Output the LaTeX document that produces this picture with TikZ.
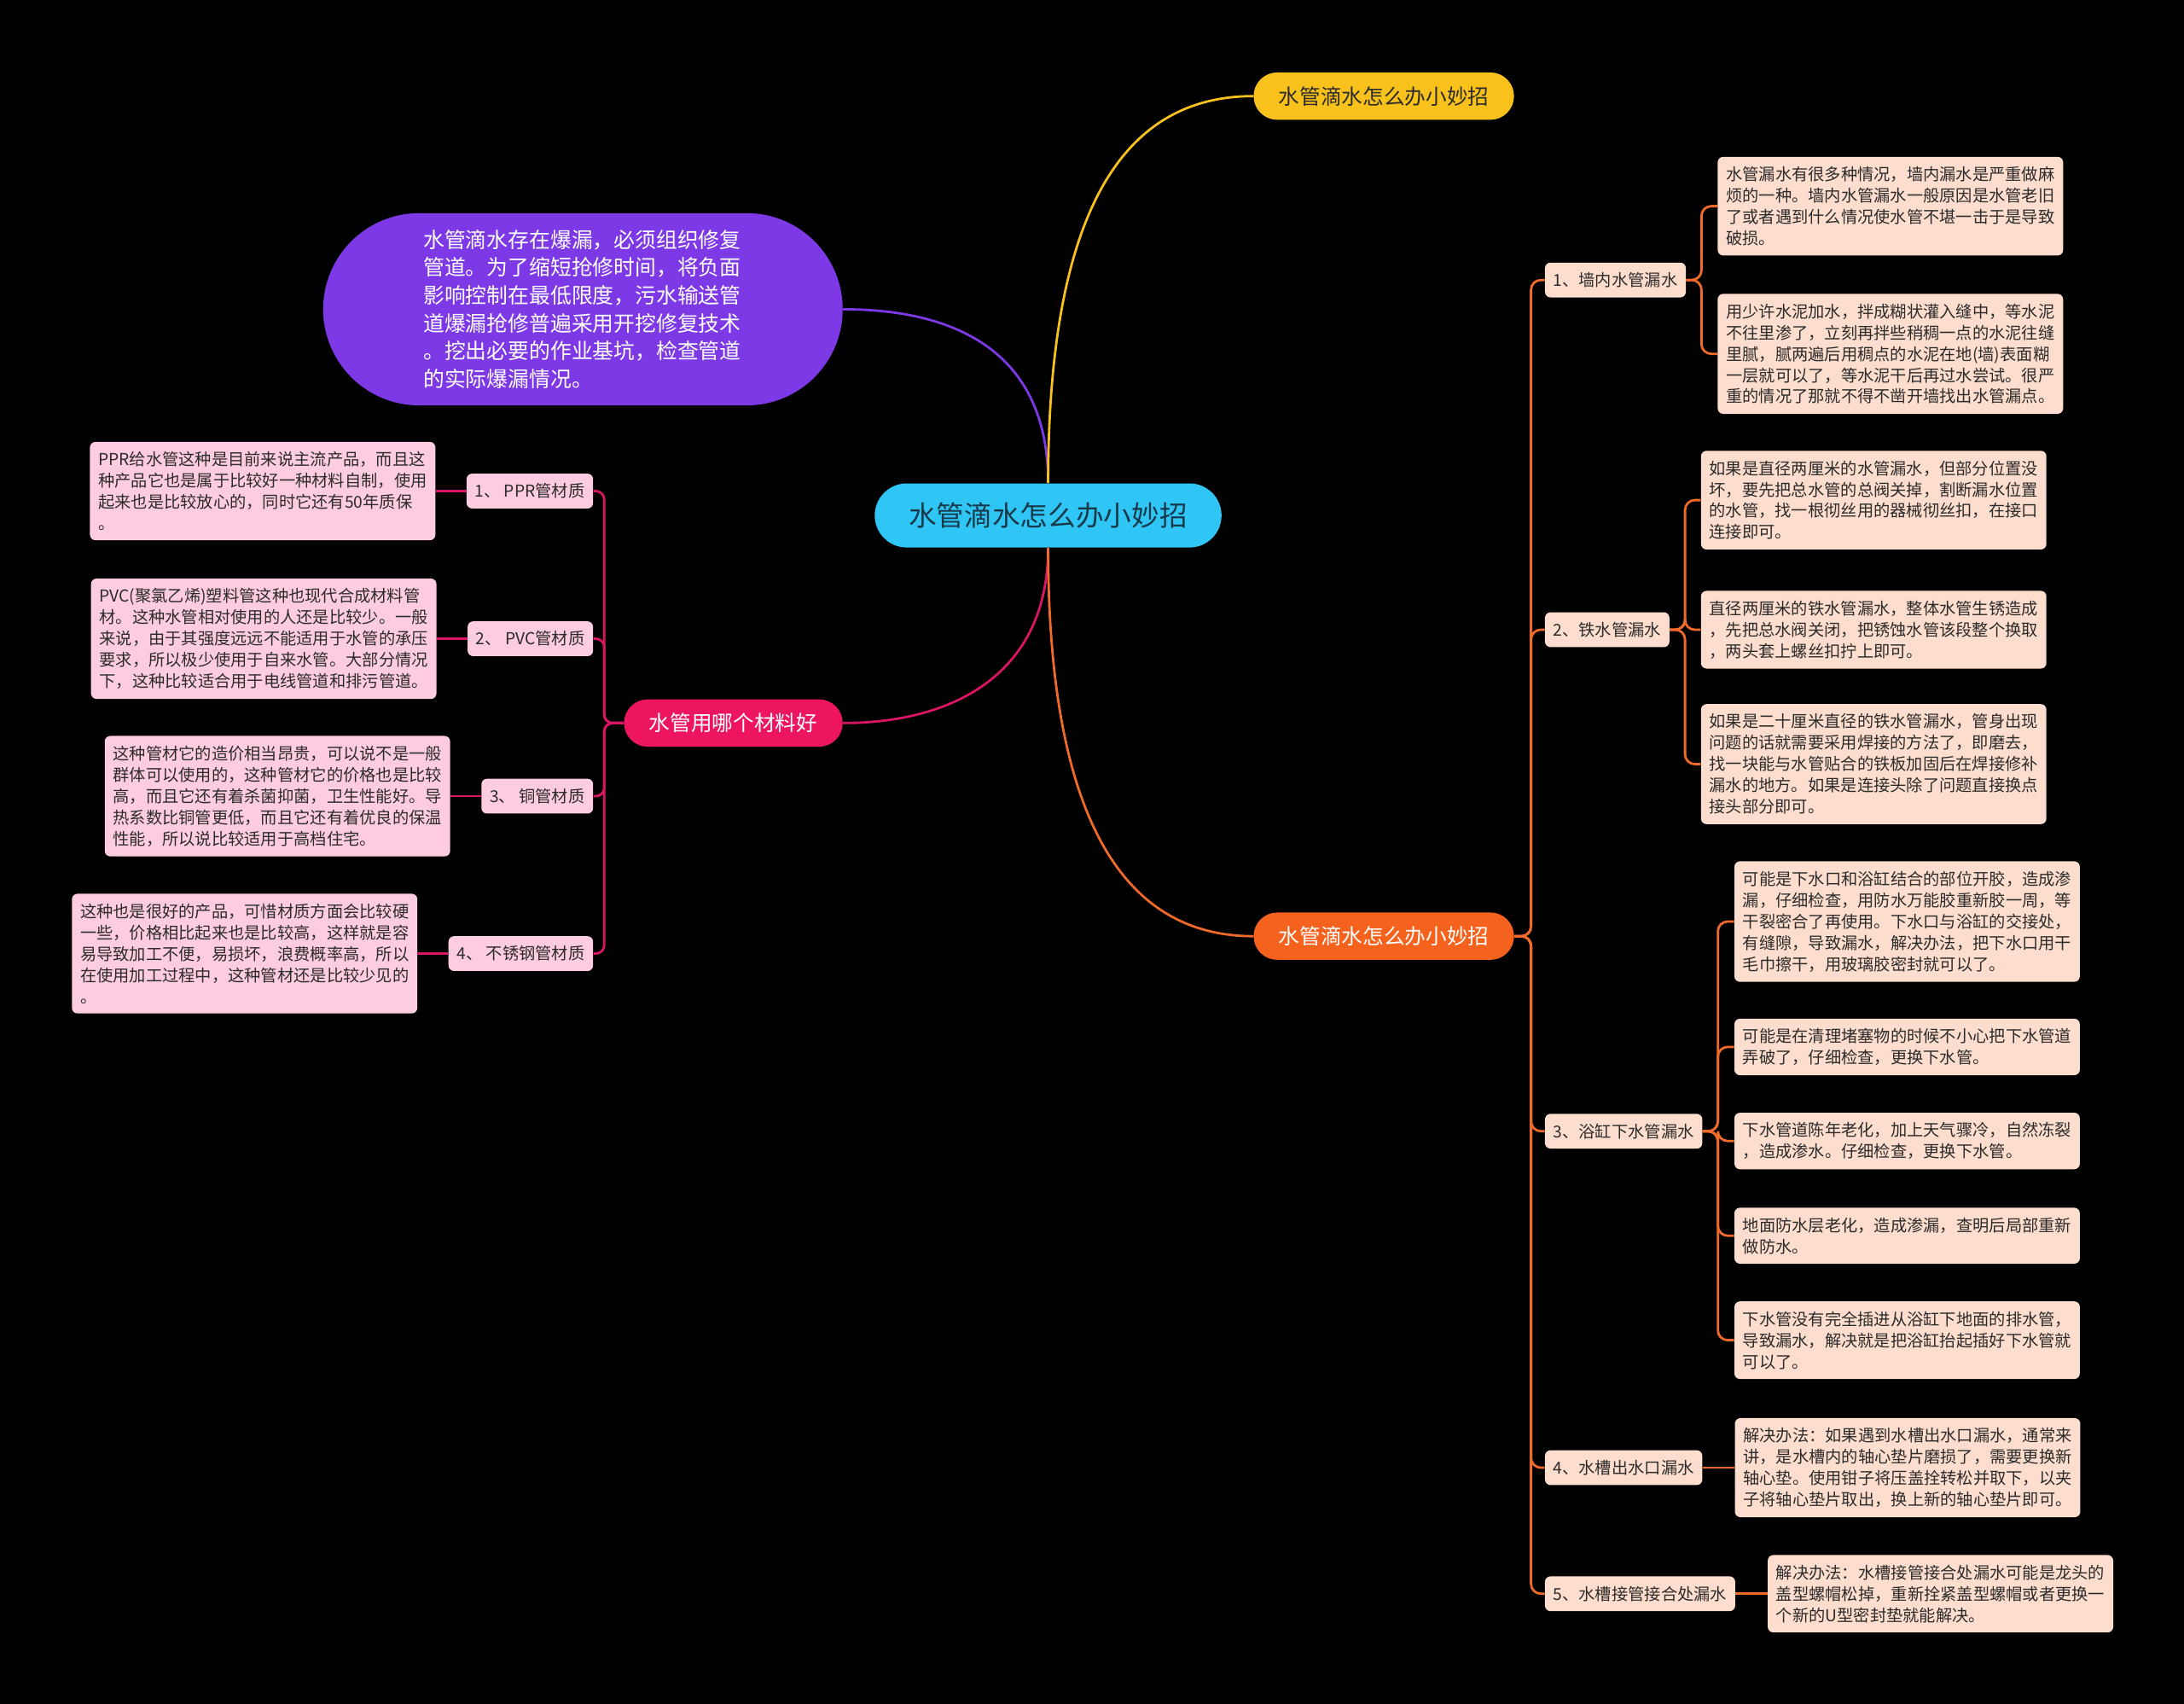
\documentclass[tikz,border=0pt]{standalone}
\usepackage{fontspec}
\setmainfont{Noto Sans CJK SC}
\usepackage{tikz}
\usetikzlibrary{positioning}
\definecolor{rootcyan}{HTML}{2FC5F4}
\definecolor{rootink}{HTML}{17394A}
\definecolor{tipyellow}{HTML}{F9C11C}
\definecolor{fixorange}{HTML}{F5621E}
\definecolor{matpink}{HTML}{EE1560}
\definecolor{notepurple}{HTML}{7E39E6}
\definecolor{leafpink}{HTML}{FECCE1}
\definecolor{leafpeach}{HTML}{FDDDCD}
\definecolor{leafink}{HTML}{2B2B2B}
\definecolor{matline}{HTML}{DA1564}
\definecolor{fixline}{HTML}{F06A2A}

\begin{document}
\begin{tikzpicture}[x=1pt,y=-1pt,
    rootbox/.style={fill=rootcyan,text=rootink,rounded corners=23pt,minimum width=249pt,minimum height=46pt,font=\fontsize{20}{24}\selectfont},
    topicbox/.style={rounded corners=17pt,minimum width=187pt,minimum height=34pt,font=\fontsize{15.1}{18}\selectfont},
    notebox/.style={fill=notepurple,text=white,rounded corners=69pt,minimum width=373pt,minimum height=138pt,text width=229pt,align=left,font=\fontsize{15.2}{20}\selectfont},
    tagbox/.style={rounded corners=4pt,minimum height=25pt,inner xsep=6pt,text=leafink,font=\fontsize{11.8}{14}\selectfont},
    leafbox/.style={rounded corners=4pt,text width=236pt,inner xsep=6pt,inner ysep=7pt,align=left,text=leafink,font=\fontsize{11.8}{15.3}\selectfont},
    matlink/.style={matline,line width=1.7pt,rounded corners=6pt},
    fixlink/.style={fixline,line width=1.7pt,rounded corners=7pt}]
    \fill[black] (0,0) rectangle (1568,1223);

    \node[rootbox] (root) at (752.5,370) {水管滴水怎么办小妙招};
    \node[topicbox,fill=tipyellow,text=leafink] (tips) at (993.5,69) {水管滴水怎么办小妙招};
    \node[topicbox,fill=fixorange,text=white] (fix) at (993.5,672) {水管滴水怎么办小妙招};
    \node[topicbox,fill=matpink,text=white,minimum width=157pt] (mat) at (526.5,519) {水管用哪个材料好};
    \node[notebox] (note) at (418.5,222) {水管滴水存在爆漏，必须组织修复\\管道。为了缩短抢修时间，将负面\\影响控制在最低限度，污水输送管\\道爆漏抢修普遍采用开挖修复技术\\。挖出必要的作业基坑，检查管道\\的实际爆漏情况。};

    \draw[notepurple,line width=1.7pt] (root.north) .. controls +(0,-95) and +(80,0) .. (note.east);
    \draw[tipyellow,line width=1.7pt] (root.north) .. controls +(0,-210) and +(-85,0) .. (tips.west);
    \draw[matline,line width=1.7pt] (root.south) .. controls +(0,90) and +(80,0) .. (mat.east);
    \draw[fixline,line width=1.7pt] (root.south) .. controls +(0,200) and +(-90,0) .. (fix.west);

    % materials
    \node[tagbox,fill=leafpink,anchor=east] (m1) at (426,352.5) {1、 PPR管材质};
    \node[tagbox,fill=leafpink,anchor=east] (m2) at (426,458.5) {2、 PVC管材质};
    \node[tagbox,fill=leafpink,anchor=east] (m3) at (426,571.5) {3、 铜管材质};
    \node[tagbox,fill=leafpink,anchor=east] (m4) at (426,684.5) {4、 不锈钢管材质};
    \node[leafbox,fill=leafpink,left=22pt of m1] (p1) {PPR给水管这种是目前来说主流产品，而且这\\种产品它也是属于比较好一种材料自制，使用\\起来也是比较放心的，同时它还有50年质保\\。};
    \node[leafbox,fill=leafpink,left=22pt of m2] (p2) {PVC(聚氯乙烯)塑料管这种也现代合成材料管\\材。这种水管相对使用的人还是比较少。一般\\来说，由于其强度远远不能适用于水管的承压\\要求，所以极少使用于自来水管。大部分情况\\下，这种比较适合用于电线管道和排污管道。};
    \node[leafbox,fill=leafpink,left=22pt of m3] (p3) {这种管材它的造价相当昂贵，可以说不是一般\\群体可以使用的，这种管材它的价格也是比较\\高，而且它还有着杀菌抑菌，卫生性能好。导\\热系数比铜管更低，而且它还有着优良的保温\\性能，所以说比较适用于高档住宅。};
    \node[leafbox,fill=leafpink,left=22pt of m4] (p4) {这种也是很好的产品，可惜材质方面会比较硬\\一些，价格相比起来也是比较高，这样就是容\\易导致加工不便，易损坏，浪费概率高，所以\\在使用加工过程中，这种管材还是比较少见的\\。};
    \foreach \i in {1,...,4}{
        \draw[matlink] (mat.west) -- ++(-14,0) |- (m\i.east);
        \draw[matlink] (m\i.west) -- (p\i.east);
    }

    % leaks
    \node[tagbox,fill=leafpeach,anchor=west] (r1) at (1109,201) {1、墙内水管漏水};
    \node[tagbox,fill=leafpeach,anchor=west] (r2) at (1109,452) {2、铁水管漏水};
    \node[tagbox,fill=leafpeach,anchor=west] (r3) at (1109,812) {3、浴缸下水管漏水};
    \node[tagbox,fill=leafpeach,anchor=west] (r4) at (1109,1053.5) {4、水槽出水口漏水};
    \node[tagbox,fill=leafpeach,anchor=west] (r5) at (1109,1144) {5、水槽接管接合处漏水};
    \foreach \i in {1,...,5}
        \draw[fixlink] (fix.east) -- ++(12,0) |- (r\i.west);

    \node[leafbox,fill=leafpeach,anchor=west] (a1) at (1233,148) {水管漏水有很多种情况，墙内漏水是严重做麻\\烦的一种。墙内水管漏水一般原因是水管老旧\\了或者遇到什么情况使水管不堪一击于是导致\\破损。};
    \node[leafbox,fill=leafpeach,anchor=west] (a2) at (1233,254) {用少许水泥加水，拌成糊状灌入缝中，等水泥\\不往里渗了，立刻再拌些稍稠一点的水泥往缝\\里腻，腻两遍后用稠点的水泥在地(墙)表面糊\\一层就可以了，等水泥干后再过水尝试。很严\\重的情况了那就不得不凿开墙找出水管漏点。};
    \foreach \i in {1,2}
        \draw[fixlink] (r1.east) -- ++(11,0) |- (a\i.west);

    \node[leafbox,fill=leafpeach,anchor=west] (b1) at (1221,359) {如果是直径两厘米的水管漏水，但部分位置没\\坏，要先把总水管的总阀关掉，割断漏水位置\\的水管，找一根彻丝用的器械彻丝扣，在接口\\连接即可。};
    \node[leafbox,fill=leafpeach,anchor=west] (b2) at (1221,452) {直径两厘米的铁水管漏水，整体水管生锈造成\\，先把总水阀关闭，把锈蚀水管该段整个换取\\，两头套上螺丝扣拧上即可。};
    \node[leafbox,fill=leafpeach,anchor=west] (b3) at (1221,548.5) {如果是二十厘米直径的铁水管漏水，管身出现\\问题的话就需要采用焊接的方法了，即磨去，\\找一块能与水管贴合的铁板加固后在焊接修补\\漏水的地方。如果是连接头除了问题直接换点\\接头部分即可。};
    \foreach \i in {1,2,3}
        \draw[fixlink] (r2.east) -- ++(11,0) |- (b\i.west);

    \node[leafbox,fill=leafpeach,anchor=west] (c1) at (1245,661.5) {可能是下水口和浴缸结合的部位开胶，造成渗\\漏，仔细检查，用防水万能胶重新胶一周，等\\干裂密合了再使用。下水口与浴缸的交接处，\\有缝隙，导致漏水，解决办法，把下水口用干\\毛巾擦干，用玻璃胶密封就可以了。};
    \node[leafbox,fill=leafpeach,anchor=west] (c2) at (1245,751.5) {可能是在清理堵塞物的时候不小心把下水管道\\弄破了，仔细检查，更换下水管。};
    \node[leafbox,fill=leafpeach,anchor=west] (c3) at (1245,819) {下水管道陈年老化，加上天气骤冷，自然冻裂\\，造成渗水。仔细检查，更换下水管。};
    \node[leafbox,fill=leafpeach,anchor=west] (c4) at (1245,887) {地面防水层老化，造成渗漏，查明后局部重新\\做防水。};
    \node[leafbox,fill=leafpeach,anchor=west] (c5) at (1245,962) {下水管没有完全插进从浴缸下地面的排水管，\\导致漏水，解决就是把浴缸抬起插好下水管就\\可以了。};
    \foreach \i in {1,...,5}
        \draw[fixlink] (r3.east) -- ++(11,0) |- (c\i.west);

    \node[leafbox,fill=leafpeach,right=23pt of r4] (d1) {解决办法：如果遇到水槽出水口漏水，通常来\\讲，是水槽内的轴心垫片磨损了，需要更换新\\轴心垫。使用钳子将压盖拴转松并取下，以夹\\子将轴心垫片取出，换上新的轴心垫片即可。};
    \node[leafbox,fill=leafpeach,right=23pt of r5] (e1) {解决办法：水槽接管接合处漏水可能是龙头的\\盖型螺帽松掉，重新拴紧盖型螺帽或者更换一\\个新的U型密封垫就能解决。};
    \draw[fixlink] (r4.east) -- (d1.west);
    \draw[fixlink] (r5.east) -- (e1.west);
\end{tikzpicture}
\end{document}
